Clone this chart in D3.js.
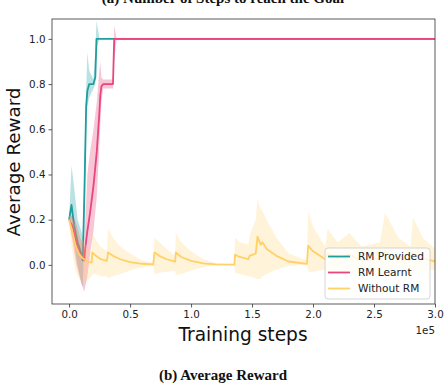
<!DOCTYPE html>
<html><head><meta charset="utf-8">
<script src="https://cdn.jsdelivr.net/npm/d3@7"></script>
<style>body{margin:0;background:#fff}svg{display:block}</style>
</head><body>
<svg id="c" width="445" height="383"></svg>
<script>
// x in units of 1e5 training steps
const xTicks = [0.0, 0.5, 1.0, 1.5, 2.0, 2.5, 3.0];
const yTicks = [0.0, 0.2, 0.4, 0.6, 0.8, 1.0];
const seriesNames = ["RM Provided", "RM Learnt", "Without RM"];
const seriesColors = ["#1f9e9e", "#e8467c", "#ffd166"];

// [x, mean, lower, upper]
const rmProvided = [
  [0.0,0.2,0.19,0.21],[0.02,0.265,0.2,0.44],[0.04,0.18,0.1,0.35],[0.07,0.1,0.0,0.2],
  [0.1,0.05,-0.08,0.15],[0.112,0.02,-0.1,0.12],[0.125,0.3,0.15,0.45],[0.14,0.7,0.6,0.78],
  [0.15,0.77,0.7,0.94],[0.165,0.8,0.74,0.86],[0.2,0.8,0.78,0.82],[0.215,0.83,0.8,0.95],
  [0.225,1.0,0.96,1.08],[0.25,1.0,1.0,1.0],[3.0,1.0,1.0,1.0]
];
const rmLearnt = [
  [0.0,0.2,0.19,0.21],[0.03,0.17,0.1,0.22],[0.06,0.1,0.0,0.18],[0.09,0.05,-0.06,0.12],
  [0.125,0.02,-0.12,0.08],[0.131,0.066,-0.1,0.17],[0.15,0.15,-0.05,0.4],[0.172,0.23,0.05,0.5],
  [0.2,0.35,0.15,0.6],[0.227,0.5,0.3,0.72],[0.248,0.67,0.52,0.86],[0.256,0.75,0.62,0.9],
  [0.265,0.79,0.72,0.83],[0.28,0.8,0.78,0.82],[0.36,0.8,0.78,0.82],[0.37,1.0,0.9,1.06],
  [0.39,1.0,1.0,1.0],[3.0,1.0,1.0,1.0]
];
const withoutRM = [
  [0.0,0.2,0.18,0.22],[0.02,0.16,0.08,0.21],[0.05,0.09,-0.02,0.18],[0.08,0.05,-0.06,0.14],
  [0.11,0.03,-0.08,0.11],[0.15,0.015,-0.07,0.08],[0.185,0.01,-0.05,0.05],[0.19,0.055,-0.04,0.14],
  [0.22,0.04,-0.04,0.11],[0.26,0.025,-0.05,0.08],[0.31,0.018,-0.05,0.06],[0.32,0.055,-0.06,0.16],
  [0.36,0.04,-0.05,0.12],[0.42,0.025,-0.04,0.08],[0.5,0.012,-0.025,0.05],[0.6,0.005,-0.01,0.02],
  [0.69,0.002,-0.005,0.01],[0.70,0.055,-0.04,0.12],[0.74,0.04,-0.035,0.1],[0.8,0.025,-0.03,0.07],
  [0.87,0.015,-0.025,0.04],[0.875,0.055,-0.045,0.14],[0.92,0.035,-0.04,0.1],[1.0,0.018,-0.025,0.06],
  [1.1,0.007,-0.01,0.025],[1.2,0.002,-0.003,0.008],[1.355,0.001,-0.002,0.004],[1.36,0.045,-0.035,0.12],
  [1.4,0.035,-0.04,0.1],[1.47,0.025,-0.05,0.09],[1.48,0.04,-0.05,0.13],[1.53,0.05,-0.06,0.2],
  [1.545,0.125,-0.065,0.29],[1.57,0.09,-0.06,0.25],[1.585,0.1,-0.05,0.24],[1.62,0.07,-0.04,0.2],
  [1.7,0.04,-0.02,0.12],[1.8,0.015,-0.005,0.05],[1.95,0.005,0.0,0.02],[1.96,0.085,-0.03,0.235],
  [2.0,0.06,-0.03,0.17],[2.1,0.025,-0.02,0.08],[2.12,0.05,-0.04,0.16],[2.2,0.03,-0.03,0.1],
  [2.3,0.045,-0.03,0.14],[2.4,0.02,-0.03,0.08],[2.55,0.03,-0.05,0.1],[2.59,0.06,-0.04,0.23],
  [2.7,0.03,-0.04,0.12],[2.8,0.02,-0.04,0.08],[2.82,0.05,-0.04,0.21],[2.9,0.03,-0.03,0.12],
  [3.0,0.015,-0.02,0.07]
];
const allSeries = [rmProvided, rmLearnt, withoutRM];

const svg = d3.select("#c");
const L = 52, R = 435, T = 19, B = 304;
const x = d3.scaleLinear().domain([-0.14, 3.0]).range([L, R]);
const y = d3.scaleLinear().domain([-0.173, 1.088]).range([B, T]);

svg.append("defs").append("clipPath").attr("id","clip")
  .append("rect").attr("x",L).attr("y",T).attr("width",R-L).attr("height",B-T);

// title (cut off at top, as in the source figure)
svg.append("text").attr("x",223).attr("y",3).attr("text-anchor","middle")
  .attr("font-family","Liberation Serif").attr("font-weight","bold").attr("font-size",15)
  .attr("fill","#111").text("(a) Number of Steps to reach the Goal");

const g = svg.append("g").attr("clip-path","url(#clip)");
const area = d3.area().x(d=>x(d[0])).y0(d=>y(d[2])).y1(d=>y(d[3]));
const line = d3.line().x(d=>x(d[0])).y(d=>y(d[1]));
allSeries.forEach((s,i)=>{
  g.append("path").attr("d",area(s)).attr("fill",seriesColors[i]).attr("fill-opacity", i===2?0.25:0.3);
  g.append("path").attr("d",line(s)).attr("fill","none").attr("stroke",seriesColors[i])
    .attr("stroke-width",1.8).attr("stroke-linejoin","round");
});

// axes
const fontT = "DejaVu Sans";
const xa = svg.append("g").attr("transform",`translate(0,${B})`)
  .call(d3.axisBottom(x).tickValues(xTicks).tickFormat(d3.format(".1f")).tickSize(3.5).tickPadding(3));
const ya = svg.append("g").attr("transform",`translate(${L},0)`)
  .call(d3.axisLeft(y).tickValues(yTicks).tickFormat(d3.format(".1f")).tickSize(3.5).tickPadding(3));
[xa,ya].forEach(a=>{
  a.select(".domain").remove();
  a.selectAll("line").attr("stroke","#333").attr("stroke-width",0.8);
  a.selectAll("text").attr("font-family",fontT).attr("font-size",10.3).attr("fill","#222");
});
svg.append("rect").attr("x",L).attr("y",T).attr("width",R-L).attr("height",B-T)
  .attr("fill","none").attr("stroke","#333").attr("stroke-width",0.8);

svg.append("text").attr("x",R).attr("y",334).attr("text-anchor","end")
  .attr("font-family",fontT).attr("font-size",10.3).attr("fill","#222").text("1e5");
svg.append("text").attr("x",243).attr("y",341).attr("text-anchor","middle")
  .attr("font-family",fontT).attr("font-size",18.6).attr("fill","#111").text("Training steps");
svg.append("text").attr("transform","translate(20,162) rotate(-90)").attr("text-anchor","middle")
  .attr("font-family",fontT).attr("font-size",18.3).attr("fill","#111").text("Average Reward");

// legend
const lg = svg.append("g");
lg.append("rect").attr("x",325).attr("y",248).attr("width",105).attr("height",51).attr("rx",3)
  .attr("fill","#fff").attr("fill-opacity",0.8).attr("stroke","#ccc").attr("stroke-width",0.8);
seriesNames.forEach((n,i)=>{
  const yy = 256.5 + i*16;
  lg.append("line").attr("x1",328).attr("x2",350).attr("y1",yy).attr("y2",yy)
    .attr("stroke",seriesColors[i]).attr("stroke-width",1.8);
  lg.append("text").attr("x",358).attr("y",yy+3.7).attr("font-family",fontT).attr("font-size",10.6)
    .attr("fill","#222").text(n);
});

svg.append("text").attr("x",223).attr("y",380).attr("text-anchor","middle")
  .attr("font-family","Liberation Serif").attr("font-weight","bold").attr("font-size",15)
  .attr("fill","#111").text("(b) Average Reward");
</script>
</body></html>
